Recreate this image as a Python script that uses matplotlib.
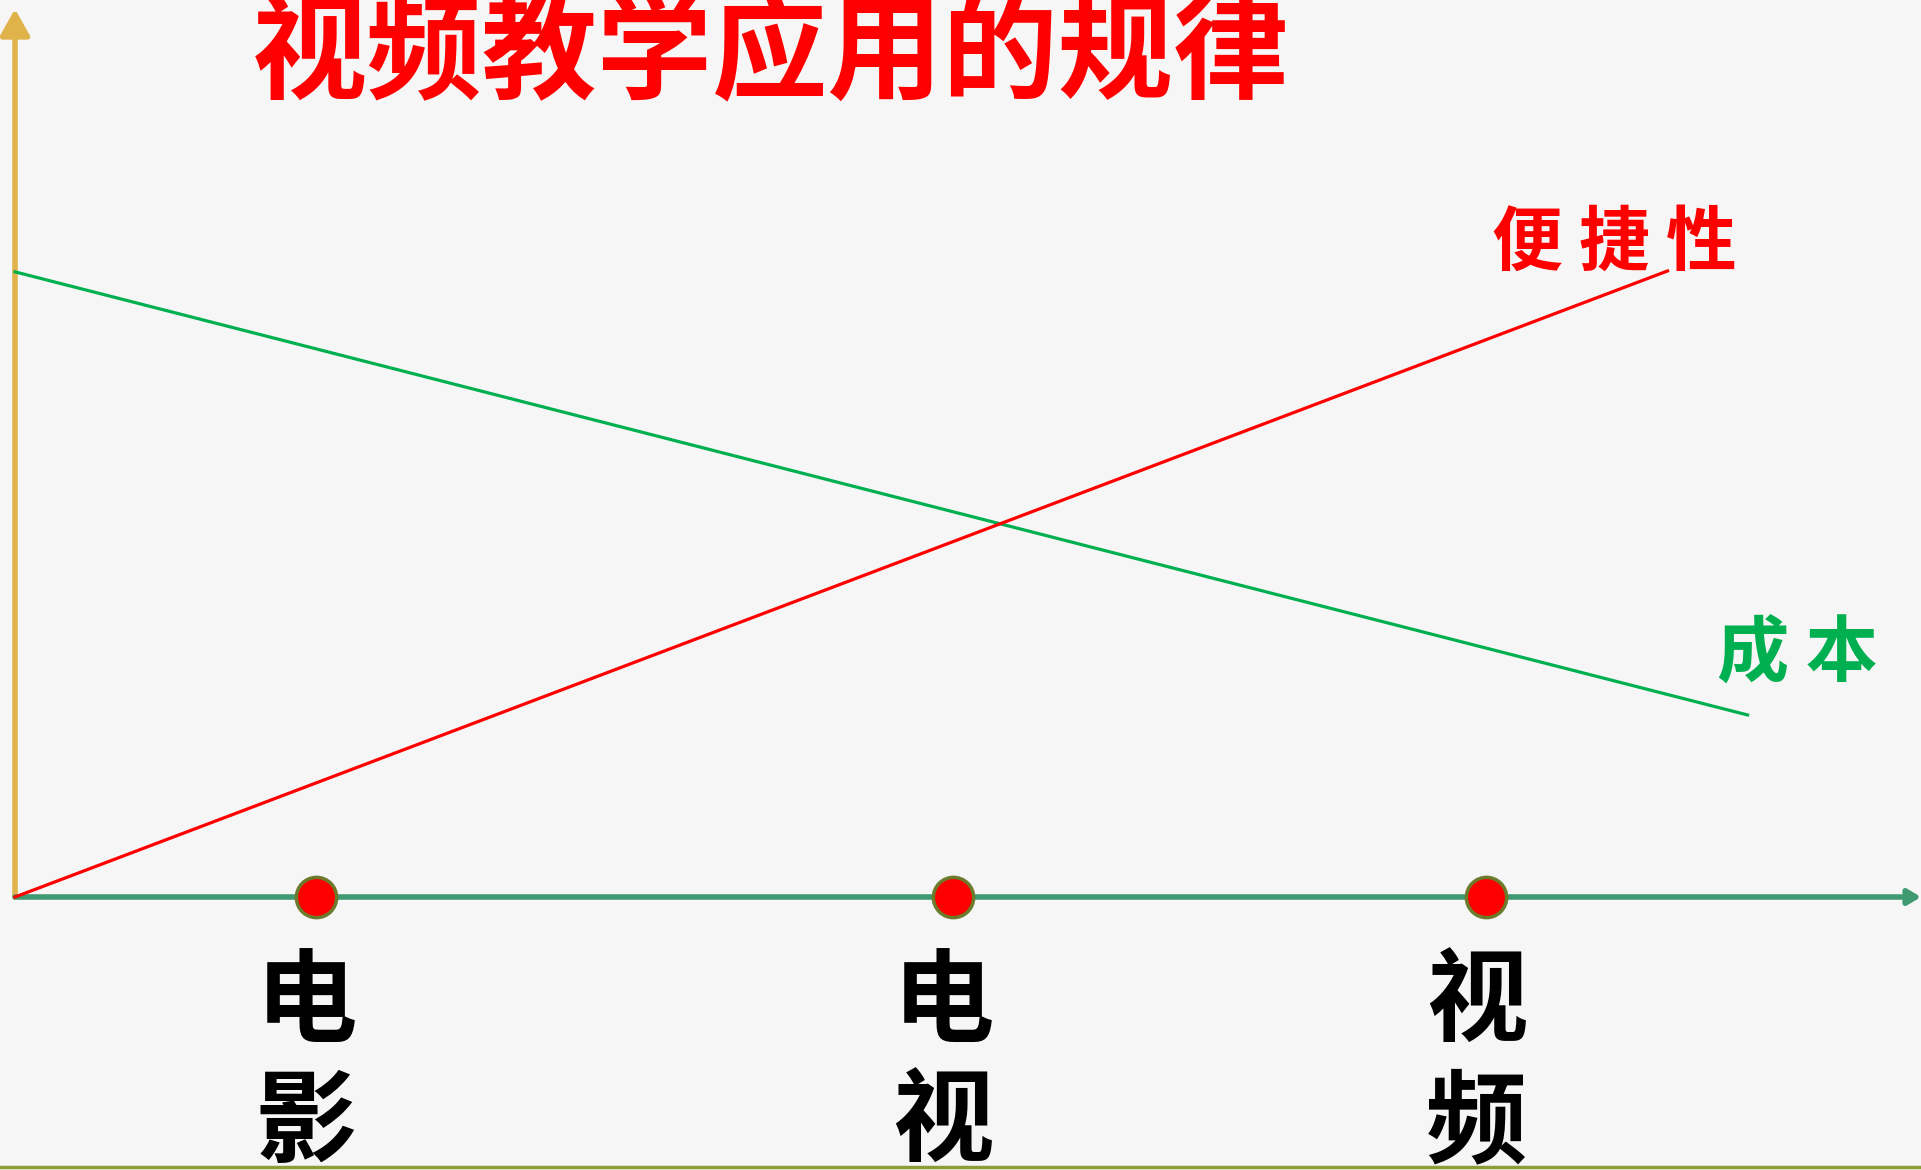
import matplotlib.pyplot as plt
from matplotlib.lines import Line2D

# ── Data ───────────────────────────────────────────────────────────────────
categories = ['电影', '电视', '视频']
cat_x = [1.58, 4.92, 7.72]

conv_x = [0, 8.67]        # 便捷性 (rises)
conv_y = [0, 7.05]
cost_x = [0, 9.09]        # 成本 (falls)
cost_y = [7.04, 2.05]

title = '视频教学应用的规律'

plt.rcParams['font.family'] = ['Noto Sans CJK SC', 'DejaVu Sans']

# ── Figure ─────────────────────────────────────────────────────────────────
W, H = 1921, 1170
fig = plt.figure(figsize=(W / 100, H / 100), dpi=100)
fig.patch.set_facecolor('#f6f6f6')

ax = fig.add_axes([15 / W, 273 / H, 1906 / W, 888 / H])
ax.set_xlim(0, 10)
ax.set_ylim(0, 10)
ax.axis('off')

# axes with arrows
ax.annotate('', xy=(0, 10), xytext=(0, 0),
            arrowprops=dict(arrowstyle='-|>,head_length=0.8,head_width=0.45',
                            color='#e0b24a', lw=4, shrinkA=0, shrinkB=0,
                            mutation_scale=20))
ax.annotate('', xy=(10, 0), xytext=(0, 0),
            arrowprops=dict(arrowstyle='-|>,head_length=0.5,head_width=0.3',
                            color='#3f9a72', lw=4, shrinkA=0, shrinkB=0,
                            mutation_scale=15))

# lines
ax.plot(cost_x, cost_y, color='#00b050', lw=2.3, clip_on=False, zorder=3)
ax.plot(conv_x, conv_y, color='#ff0000', lw=2.3, clip_on=False, zorder=3)

# category markers and labels
ax.plot(cat_x, [0] * len(cat_x), 'o', ms=29, mfc='#ff0000', mec='#6b7b2b',
        mew=2.5, clip_on=False, zorder=5)
for x, name in zip(cat_x, categories):
    ax.annotate('\n'.join(name), xy=(x, 0), xytext=(-7, -40),
                textcoords='offset points', ha='center', va='top',
                fontsize=73, fontweight='bold', color='black',
                linespacing=1.22, annotation_clip=False)

# line labels
ax.text(7.75, 7.36, '便 捷 性', color='#ff0000', fontsize=51,
        fontweight='bold', ha='left', va='center')
ax.text(8.93, 2.73, '成 本', color='#00b050', fontsize=52,
        fontweight='bold', ha='left', va='center')

# title
fig.text(770 / W, 1080 / H, title, color='#ff0000', fontsize=83,
         fontweight='bold', ha='center', va='baseline')

# bottom rule
fig.add_artist(Line2D([0, 1], [3 / H, 3 / H], color='#8a9e35', lw=2.5))

fig.savefig('out.png', dpi=100, facecolor=fig.get_facecolor())
